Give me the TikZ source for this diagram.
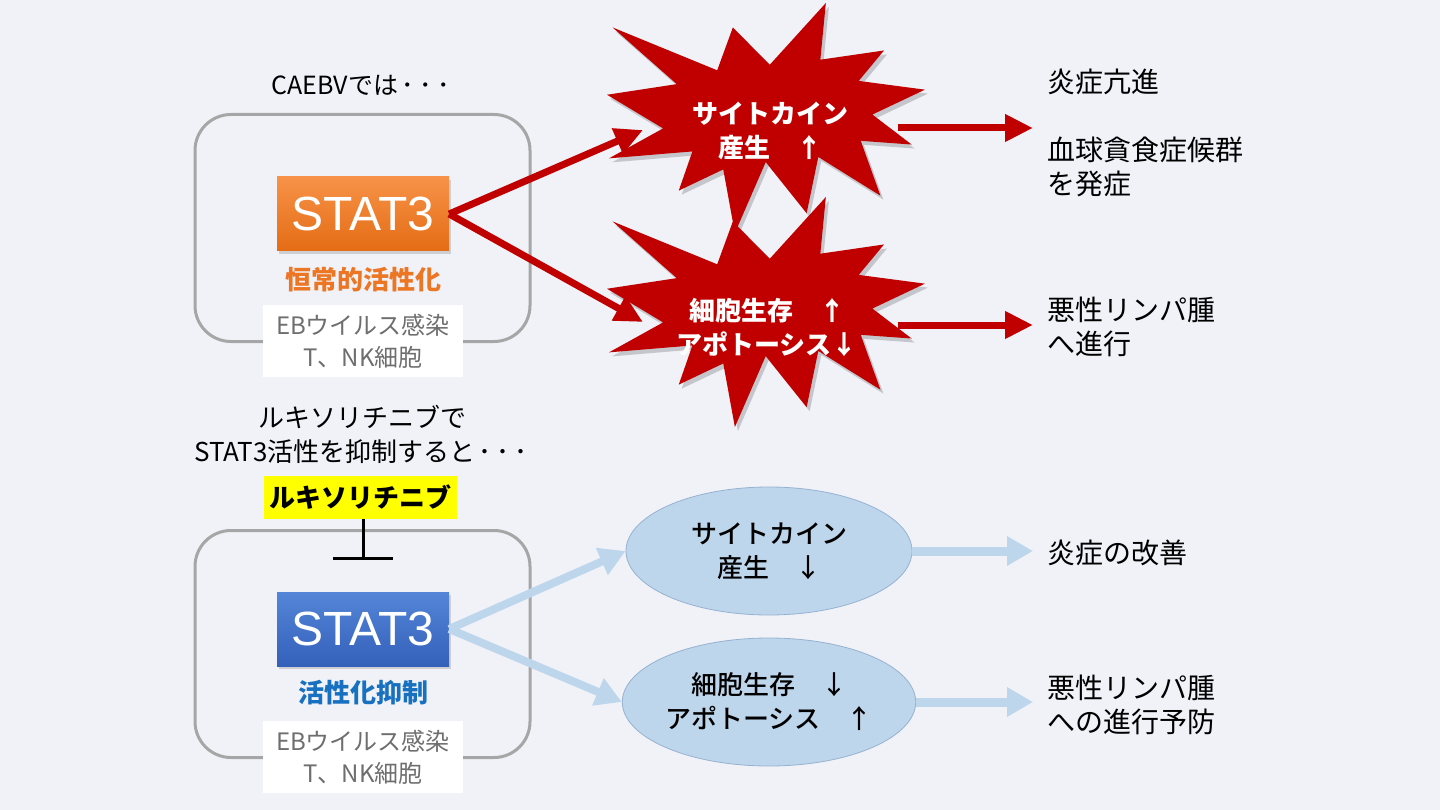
\documentclass[tikz,border=0pt]{standalone}
\usepackage{fontspec}
\setmainfont{Noto Sans CJK JP}
\newfontfamily\arialfont{Liberation Sans}
\IfFontExistsTF{Noto Sans CJK JP Medium}{\newfontfamily\jpmedium{Noto Sans CJK JP Medium}}{\newcommand{\jpmedium}{\bfseries}}
\usetikzlibrary{arrows.meta}
\usetikzlibrary{shapes.geometric}
\usetikzlibrary{shadows}
\definecolor{bgcol}{RGB}{240,242,248}
\definecolor{cellgray}{RGB}{166,166,166}
\definecolor{textgray}{RGB}{110,110,110}
\definecolor{orangetop}{RGB}{247,146,72}
\definecolor{orangebot}{RGB}{228,108,20}
\definecolor{orangetxt}{RGB}{236,118,36}
\definecolor{bluetop}{RGB}{84,134,216}
\definecolor{bluebot}{RGB}{52,96,186}
\definecolor{bluetxt}{RGB}{24,112,192}
\definecolor{burstred}{RGB}{192,0,0}
\definecolor{paleblue}{RGB}{190,214,236}
\definecolor{paleedge}{RGB}{150,178,208}
\definecolor{ruxyellow}{RGB}{255,255,0}
\newcommand{\jpsize}{\fontsize{26pt}{34pt}\selectfont}
\newcommand{\outsize}{\fontsize{28pt}{34pt}\selectfont}
\newcommand{\statsize}{\arialfont\fontsize{48pt}{48pt}\selectfont}
\newcommand{\tridots}{\makebox[18pt]{･}\makebox[18pt]{･}\makebox[18pt]{･}}
\newcommand{\burstpath}{(108,58) -- (145.22,0) -- (141.55,53.25) -- (183.8,44.57) -- (167.02,73.15) -- (210.97,81.37) -- (176.07,104.75) -- (202.17,132.9) -- (168.37,129.42) -- (181.45,180.95) -- (140.2,144.57) -- (132.47,197.37) -- (105.32,149.35) -- (84.85,216) -- (77.15,156.27) -- (47.62,176.17) -- (56.67,139.37) -- (1.35,145.87) -- (37.22,117.75) -- (0,86.15) -- (46.27,76.17) -- (3.7,22.95) -- (73.12,63.2) -- (83.52,22.95) -- cycle}
\tikzset{
 cellbox/.style={draw=cellgray, line width=3pt, rounded corners=36pt, minimum width=335pt, minimum height=227pt},
 statbox/.style={minimum width=172pt, minimum height=74pt, inner sep=0pt, text=white, font=\statsize, drop shadow={opacity=0.3, shadow xshift=2pt, shadow yshift=-3pt}},
 ebvbox/.style={fill=white, minimum width=200pt, minimum height=72pt, inner sep=0pt, align=center, text=textgray, font=\fontsize{24pt}{32pt}\selectfont},
 plaintext/.style={inner sep=0pt, align=center, font=\jpsize},
 outtext/.style={anchor=west, inner xsep=14pt, inner ysep=0pt, align=left, font=\outsize},
 bursttext/.style={inner sep=0pt, align=center, text=white, font=\jpsize\bfseries},
 ellbox/.style={ellipse, fill=paleblue, draw=paleedge, line width=0.8pt, minimum width=286pt, minimum height=128pt, inner sep=0pt, align=center, font=\jpsize\jpmedium},
 redarrow/.style={draw=burstred, line width=7pt, -{Triangle[length=28pt,width=26pt]}},
 bluearrow/.style={draw=paleblue, line width=9pt, -{Triangle[length=26pt,width=28pt]}},
 blockline/.style={draw=black, line width=3pt}
}
\begin{document}
\begin{tikzpicture}[x=1pt,y=-1pt]
\useasboundingbox (0,0) rectangle (1440,810);
\fill[bgcol] (0,0) rectangle (1440,810);

\foreach \n/\y in {A/228,B/644} {
 \node[cellbox] (cell\n) at (362.5,\y) {};
}
\node[statbox, top color=orangetop, bottom color=orangebot] (statA) at (363,214) {STAT3};
\node[statbox, top color=bluetop, bottom color=bluebot] (statB) at (363,629) {STAT3};
\node[plaintext, text=orangetxt, font=\jpsize\bfseries] (actA) at (363,280) {恒常的活性化};
\node[plaintext, text=bluetxt, font=\jpsize\bfseries] (supB) at (363,693) {活性化抑制};
\foreach \n/\y in {A/341,B/757} {
 \node[ebvbox] (ebv\n) at (363,\y) {EBウイルス感染\\T、NK細胞};
}
\node[plaintext, font=\fontsize{25pt}{34pt}\selectfont] (caebv) at (362,85) {CAEBVでは\tridots};
\node[plaintext] (rux) at (362,434) {ルキソリチニブで\\STAT3活性を抑制すると\tridots};
\node[plaintext, fill=ruxyellow, minimum width=193pt, minimum height=43pt, font=\jpsize\bfseries] (ruxbox) at (360,497) {ルキソリチニブ};
\coordinate (block) at (363,558);
\draw[blockline] (ruxbox.south -| block) -- (block);
\draw[blockline] ([xshift=-30pt]block) -- ([xshift=30pt]block);

\foreach \n/\y in {A/3,B/197} {
 \begin{scope}[shift={(610,\y+4)}, x=1.507pt, y=-1.065pt]
  \fill[black, opacity=0.18] \burstpath;
 \end{scope}
 \begin{scope}[shift={(607,\y)}, x=1.507pt, y=-1.065pt]
  \fill[burstred] \burstpath;
 \end{scope}
}
\node[bursttext] (burstA) at (770,131) {サイトカイン\\産生　↑};
\node[bursttext] (burstB) at (767,327) {細胞生存　↑\\アポトーシス↓};
\coordinate (burstA in) at (643,130);
\coordinate (burstB in) at (643,322);
\coordinate (burstA out) at (898,128);
\coordinate (burstB out) at (898,325);

\node[outtext] (inflam) at (1033,82) {炎症亢進};
\node[outtext] (hlh) at (1033,167) {血球貪食症候群\\を発症};
\node[outtext] (lymA) at (1033,327) {悪性リンパ腫\\へ進行};
\draw[redarrow] (statA.east) -- (burstA in);
\draw[redarrow] (statA.east) -- (burstB in);
\draw[redarrow] (burstA out) -- (burstA out -| hlh.west);
\draw[redarrow] (burstB out) -- (burstB out -| lymA.west);

\node[ellbox] (ellA) at (769,551) {サイトカイン\\産生　↓};
\node[ellbox] (ellB) at (769,702) {細胞生存　↓\\アポトーシス　↑};
\node[outtext] (improve) at (1033,553) {炎症の改善};
\node[outtext] (prevent) at (1033,705) {悪性リンパ腫\\への進行予防};
\draw[bluearrow, line width=8pt] (statB.east) -- (ellA.west);
\draw[bluearrow, line width=8pt] (statB.east) -- (ellB.west);
\draw[bluearrow] (ellA.east) -- (ellA.east -| improve.west);
\draw[bluearrow] (ellB.east) -- (ellB.east -| prevent.west);
\end{tikzpicture}
\end{document}
